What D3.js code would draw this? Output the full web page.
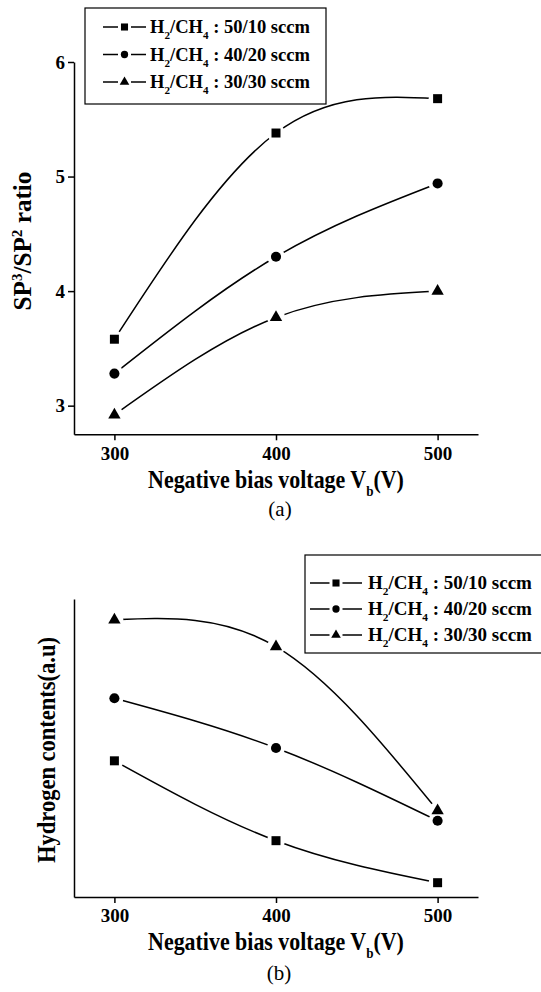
<!DOCTYPE html>
<html>
<head>
<meta charset="utf-8">
<script src="https://cdn.jsdelivr.net/npm/d3@7"></script>
<style>
  body { margin: 0; background: #fff; }
  svg text { fill: #000; white-space: pre; }
</style>
</head>
<body>
<svg id="fig" width="541" height="992" font-family="'Liberation Serif', Tinos, 'Times New Roman', Times, serif"></svg>
<script>
// ---- data ----
const voltages = [300, 400, 500];
const xTicks = [300, 400, 500];
const spTicks = [3, 4, 5, 6];
const flowLabels = ["50/10", "40/20", "30/30"];
const symbolNames = ["square", "circle", "triangle"];

// SP3/SP2 ratio for each H2/CH4 flow
const spRatio5010 = [3.58, 5.38, 5.68];
const spRatio4020 = [3.28, 4.30, 4.94];
const spRatio3030 = [2.92, 3.77, 4.00];

// hydrogen contents, arbitrary units
const hydrogen5010 = [45.7, 18.9, 4.8];
const hydrogen4020 = [66.7, 50.0, 25.6];
const hydrogen3030 = [93.0, 84.0, 29.0];

// ---- helpers ----
const FONT = "'Liberation Serif', Tinos, 'Times New Roman', Times, serif";
const svg = d3.select("#fig");
const symbolTypes = { square: d3.symbolSquare, circle: d3.symbolCircle, triangle: d3.symbolTriangle };
const plotSizes = { square: 81, circle: 80, triangle: 66 };
const legendSizes = { square: 50, circle: 42, triangle: 40 };

function marker(g, name, size, cx, cy) {
  g.append("path")
    .attr("d", d3.symbol().type(symbolTypes[name]).size(size)())
    .attr("transform", `translate(${cx},${cy})`)
    .attr("fill", "#000");
}

// stretch a text element (drawn at its group's origin) to a given advance length
function fitLength(text, target) {
  const w = text.node().getComputedTextLength();
  if (w > 0) text.attr("transform", `scale(${target / w},1)`);
}

function styleAxis(g) {
  g.attr("font-family", FONT).attr("font-size", null);
  g.select(".domain").attr("stroke", "#000").attr("stroke-width", 1.5);
  g.selectAll(".tick line").attr("stroke", "#000").attr("stroke-width", 1.5);
  g.selectAll(".tick text").attr("font-size", 19).attr("font-weight", "bold").attr("fill", "#000");
}

function flowLabel(text, flow, fs) {
  text.append("tspan").text("H");
  text.append("tspan").attr("font-size", fs * 0.6).attr("dy", fs * 0.34).text("2");
  text.append("tspan").attr("dy", -fs * 0.34).text("/CH");
  text.append("tspan").attr("font-size", fs * 0.6).attr("dy", fs * 0.34).text("4");
  text.append("tspan").attr("dy", -fs * 0.34).text(" : " + flow + " sccm");
}

function legend(g, box, rowBaselines, lineX, markX, textX, textWidth) {
  const fs = 18.5;
  g.append("rect")
    .attr("x", box.x).attr("y", box.y).attr("width", box.w).attr("height", box.h)
    .attr("fill", "#fff").attr("stroke", "#000").attr("stroke-width", 1.2);
  flowLabels.forEach((flow, i) => {
    const yb = rowBaselines[i];
    const ym = yb - 6;
    g.append("line")
      .attr("x1", lineX[0]).attr("x2", lineX[1]).attr("y1", ym).attr("y2", ym)
      .attr("stroke", "#000").attr("stroke-width", 1.5);
    g.append("rect")
      .attr("x", markX - 6.5).attr("y", ym - 4).attr("width", 13).attr("height", 8)
      .attr("fill", "#fff");
    marker(g, symbolNames[i], legendSizes[symbolNames[i]], markX, ym);
    const tg = g.append("g").attr("transform", `translate(${textX},${yb})`);
    const t = tg.append("text").attr("font-size", fs).attr("font-weight", "bold").attr("font-family", FONT);
    flowLabel(t, flow, fs);
    fitLength(t, textWidth);
  });
}

function xTitle(g, cx, baseline, width) {
  const fs = 25;
  const tg = g.append("g").attr("transform", `translate(${cx},${baseline})`);
  const t = tg.append("text").attr("text-anchor", "middle").attr("font-size", fs)
    .attr("font-weight", "bold").attr("font-family", FONT);
  t.append("tspan").text("Negative bias voltage V");
  t.append("tspan").attr("font-size", fs * 0.6).attr("dy", fs * 0.3).text("b");
  t.append("tspan").attr("dy", -fs * 0.3).text("(V)");
  fitLength(t, width);
}

function caption(g, cx, baseline, label) {
  g.append("text").attr("x", cx).attr("y", baseline).attr("text-anchor", "middle")
    .attr("font-family", FONT).attr("font-size", 21).text(label);
}

function drawSeries(g, x, y, seriesList) {
  const line = d3.line()
    .x((d, i) => x(voltages[i]))
    .y(d => y(d))
    .curve(d3.curveNatural);
  seriesList.forEach(vals => {
    g.append("path").attr("d", line(vals))
      .attr("fill", "none").attr("stroke", "#000").attr("stroke-width", 1.5);
  });
  // clear a small gap around every point
  seriesList.forEach(vals => {
    vals.forEach((v, i) => {
      g.append("circle").attr("cx", x(voltages[i])).attr("cy", y(v)).attr("r", 9).attr("fill", "#fff");
    });
  });
  seriesList.forEach((vals, s) => {
    vals.forEach((v, i) => marker(g, symbolNames[s], plotSizes[symbolNames[s]], x(voltages[i]), y(v)));
  });
}

// ---- panel (a): SP3/SP2 ratio ----
{
  const g = svg.append("g");
  const x = d3.scaleLinear().domain([275, 525]).range([74, 478]);
  const y = d3.scaleLinear().domain([2.75, 6]).range([434.3, 62]);

  drawSeries(g, x, y, [spRatio5010, spRatio4020, spRatio3030]);

  g.append("g").attr("transform", `translate(0,${y.range()[0]})`)
    .call(d3.axisBottom(x).tickValues(xTicks).tickSize(6).tickSizeOuter(0).tickPadding(6).tickFormat(d3.format("d")))
    .call(styleAxis);
  g.append("g").attr("transform", `translate(${x.range()[0]},0)`)
    .call(d3.axisLeft(y).tickValues(spTicks).tickSize(6).tickSizeOuter(0).tickPadding(3).tickFormat(d3.format("d")))
    .call(styleAxis);

  // y title: SP3/SP2 ratio
  const fs = 25;
  const tg = g.append("g").attr("transform", "translate(31,241) rotate(-90)");
  const t = tg.append("text").attr("text-anchor", "middle").attr("font-size", fs)
    .attr("font-weight", "bold").attr("font-family", FONT);
  t.append("tspan").text("SP");
  t.append("tspan").attr("font-size", fs * 0.6).attr("dy", -fs * 0.38).text("3");
  t.append("tspan").attr("dy", fs * 0.38).text("/SP");
  t.append("tspan").attr("font-size", fs * 0.6).attr("dy", -fs * 0.38).text("2");
  t.append("tspan").attr("dy", fs * 0.38).text(" ratio");
  fitLength(t, 139);

  xTitle(g, 276, 488, 256);
  caption(g, 280, 516, "(a)");

  legend(g, { x: 85, y: 8, w: 241, h: 96 }, [33, 60.5, 88], [103, 146], 124.5, 150, 160);
}

// ---- panel (b): hydrogen contents ----
{
  const g = svg.append("g");
  const x = d3.scaleLinear().domain([275, 525]).range([74, 478]);
  const y = d3.scaleLinear().domain([0, 100]).range([897, 599]);

  drawSeries(g, x, y, [hydrogen5010, hydrogen4020, hydrogen3030]);

  g.append("g").attr("transform", `translate(0,${y.range()[0]})`)
    .call(d3.axisBottom(x).tickValues(xTicks).tickSize(6).tickSizeOuter(0).tickPadding(6).tickFormat(d3.format("d")))
    .call(styleAxis);
  g.append("g").attr("transform", `translate(${x.range()[0]},0)`)
    .call(d3.axisLeft(y).tickValues([]).tickSizeOuter(0))
    .call(styleAxis);

  const tg = g.append("g").attr("transform", "translate(55,750) rotate(-90)");
  const t = tg.append("text").attr("text-anchor", "middle").attr("font-size", 24.5)
    .attr("font-weight", "bold").attr("font-family", FONT)
    .text("Hydrogen contents(a.u)");
  fitLength(t, 226);

  xTitle(g, 276, 950, 256);
  caption(g, 279, 980, "(b)");

  legend(g, { x: 305, y: 555, w: 260, h: 98 }, [589, 615, 641], [310, 362], 336, 368, 164);
}
</script>
</body>
</html>
